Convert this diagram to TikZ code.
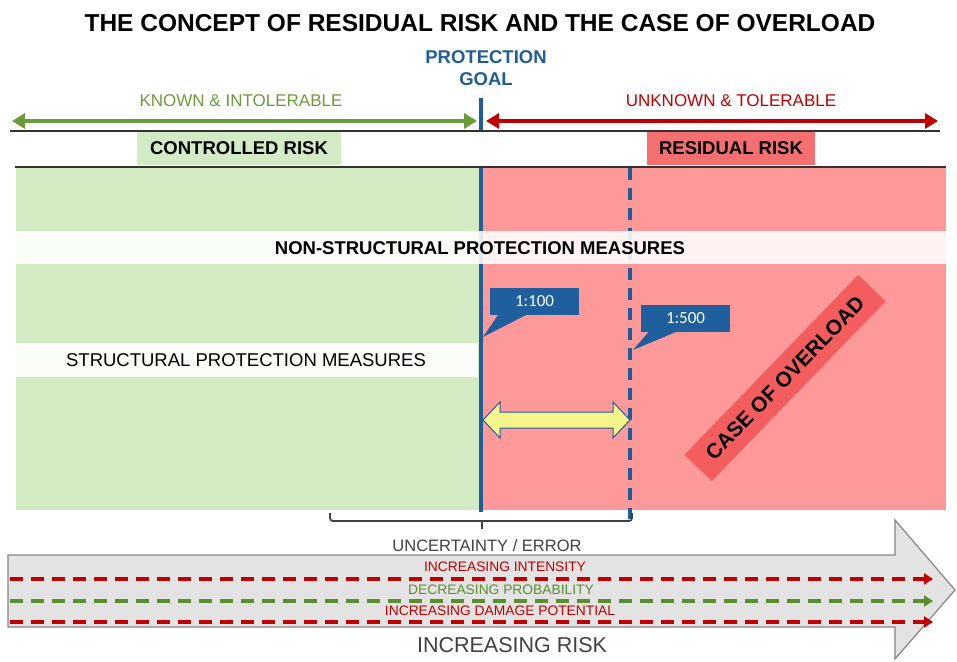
\documentclass[tikz,border=0pt]{standalone}
\usepackage{fontspec}
\setmainfont{Liberation Sans}
\newfontfamily\tagfont{Carlito}
\usetikzlibrary{arrows.meta}

\definecolor{goalblue}{HTML}{1F5C99}
\definecolor{knowngreen}{HTML}{6A9A3A}
\definecolor{unkred}{HTML}{C00000}
\definecolor{ctrlgreen}{HTML}{D3EBC5}
\definecolor{areagreen}{HTML}{D2EBC3}
\definecolor{areared}{HTML}{FE9999}
\definecolor{resred}{HTML}{F46F6F}
\definecolor{overred}{HTML}{F45D5D}
\definecolor{calloutblue}{HTML}{1F5F9E}
\definecolor{yellowfill}{HTML}{F5F58C}
\definecolor{barfill}{HTML}{E3E3E3}
\definecolor{barline}{HTML}{858585}
\definecolor{textgray}{HTML}{404040}
\definecolor{dashred}{HTML}{C00000}
\definecolor{dashgreen}{HTML}{5A8F2E}

\tikzset{
  fs/.style={font=\fontsize{#1}{#1}\selectfont},
  fsb/.style={font=\fontsize{#1}{#1}\selectfont\bfseries},
  area/.style={anchor=north west, inner sep=0pt, outer sep=0pt},
  band/.style={anchor=north west, inner sep=0pt, outer sep=0pt, fill=white, fill opacity=0.88, text opacity=1},
  tag/.style={fill=calloutblue, text=white, inner sep=0pt, outer sep=0pt, font=\tagfont\fontsize{17}{17}\selectfont},
  rangearrow/.style={line width=4pt, {Triangle[length=13pt,width=15pt]}-{Triangle[length=13pt,width=15pt]}},
  trend/.style={line width=3.6pt, dash pattern=on 13pt off 8pt, -{Triangle[length=9pt,width=11pt]}},
  rule/.style={line width=1.8pt, draw=black!80},
}

\begin{document}
\begin{tikzpicture}[x=1pt,y=-1pt]
\useasboundingbox (0,0) rectangle (957,661);

% title
\node[fsb=24.5] (title) at (480,23) {THE CONCEPT OF RESIDUAL RISK AND THE CASE OF OVERLOAD};

% protection goal marker
\node[fsb=18.5, text=goalblue, align=center, inner sep=0pt] (goal) at (486,68) {PROTECTION\\[4pt]GOAL};
\coordinate (goaltop) at (481,98);
\coordinate (goalbot) at (481,131);
\draw[goalblue, line width=3.2pt] (goaltop) -- (goalbot);

% known / unknown ranges
\coordinate (kl) at (12,121);
\coordinate (kr) at (477,121);
\coordinate (ul) at (486,121);
\coordinate (ur) at (938,121);
\draw[knowngreen, rangearrow] (kl) -- (kr);
\draw[unkred, rangearrow] (ul) -- (ur);
\node[fs=17, text=knowngreen] (known) at (241,101) {KNOWN \& INTOLERABLE};
\node[fs=17, text=unkred] (unknown) at (731,101) {UNKNOWN \& TOLERABLE};

% risk header row
\node[area, fill=ctrlgreen, minimum width=204pt, minimum height=33pt] (ctrlbox) at (137,132) {};
\node[fsb=18.5] (ctrl) at (ctrlbox.center) {CONTROLLED RISK};
\node[area, fill=resred, minimum width=168pt, minimum height=33pt] (resbox) at (647,132) {};
\node[fsb=18.5] (res) at (resbox.center) {RESIDUAL RISK};
\coordinate (r1l) at (10,131);
\coordinate (r1r) at (940,131);
\coordinate (r2l) at (15,167);
\coordinate (r2r) at (946,167);
\draw[rule] (r1l) -- (r1r);
\draw[rule] (r2l) -- (r2r);

% risk areas
\node[area, fill=areagreen, minimum width=465pt, minimum height=342pt] (greenarea) at (16,168) {};
\node[area, fill=areared, minimum width=465pt, minimum height=342pt] (redarea) at (481,168) {};

% protection goal line and overload threshold
\coordinate (pgtop) at (481,168);
\coordinate (pgbot) at (481,512);
\coordinate (ovtop) at (630,168);
\coordinate (ovbot) at (630,519);
\draw[goalblue, line width=3.2pt] (pgtop) -- (pgbot);
\draw[goalblue, line width=3.2pt, dash pattern=on 12pt off 8pt] (ovtop) -- (ovbot);

% measure bands (lying over the threshold lines)
\node[band, minimum width=930pt, minimum height=33pt] (nsband) at (16,231) {};
\node[fsb=18.5] (ns) at (480,248) {NON-STRUCTURAL PROTECTION MEASURES};
\node[band, minimum width=462pt, minimum height=34pt] (sband) at (16,343) {};
\node[fs=18.5] (st) at (246,360) {STRUCTURAL PROTECTION MEASURES};

% return period tags
\node[tag, minimum width=89pt, minimum height=27pt] (t100) at (534.5,301.5) {1:100};
\coordinate (t100tip) at (483,337);
\fill[calloutblue] ([xshift=8pt]t100.south west) -- (t100tip) -- ([xshift=36pt]t100.south west) -- cycle;
\node[tag, minimum width=89pt, minimum height=27pt] (t500) at (685.5,318) {1:500};
\coordinate (t500tip) at (633,350);
\fill[calloutblue] ([xshift=8pt]t500.south west) -- (t500tip) -- ([xshift=36pt]t500.south west) -- cycle;

% double arrow between both thresholds
\coordinate (yl) at (483,420);
\coordinate (yr) at (630,420);
\draw[goalblue, line width=1pt, fill=yellowfill]
  (yl) -- (500,402) -- (500,412) -- (613,412) -- (613,402) -- (yr)
  -- (613,438) -- (613,428) -- (500,428) -- (500,438) -- cycle;

% case of overload
\node[fsb=21, fill=overred, rotate=46, minimum width=250pt, minimum height=38pt, inner sep=0pt] (over) at (785,378) {CASE OF OVERLOAD};

% uncertainty bracket
\coordinate (bl) at (330,513);
\coordinate (br) at (632,513);
\coordinate (bm) at (482,521);
\coordinate (bt) at (482,529);
\draw[black!75, line width=1.8pt, rounded corners=3pt] (bl) -- (330,521) -- (632,521) -- (br);
\draw[black!75, line width=1.8pt] (bm) -- (bt);
\node[fs=16.5, text=textgray] (unc) at (487,546) {UNCERTAINTY / ERROR};

% increasing risk arrow
\draw[barline, fill=barfill, line width=1.2pt]
  (8,555) -- (895,555) -- (895,520) -- (955,590) -- (895,659) -- (895,627) -- (8,627) -- cycle;

\coordinate (d1l) at (10,579);
\coordinate (d1r) at (933,579);
\coordinate (d2l) at (10,601);
\coordinate (d2r) at (933,601);
\coordinate (d3l) at (10,622);
\coordinate (d3r) at (933,622);
\draw[dashred, trend] (d1l) -- (d1r);
\draw[dashgreen, trend] (d2l) -- (d2r);
\draw[dashred, trend] (d3l) -- (d3r);
\node[fs=13.8, text=dashred] (inten) at (505,567) {INCREASING INTENSITY};
\node[fs=13.8, text=dashgreen] (prob) at (501,590) {DECREASING PROBABILITY};
\node[fs=13.8, text=dashred] (dmg) at (500,611) {INCREASING DAMAGE POTENTIAL};
\node[fs=21.5, text=textgray] (risk) at (512,645) {INCREASING RISK};
\end{tikzpicture}
\end{document}
